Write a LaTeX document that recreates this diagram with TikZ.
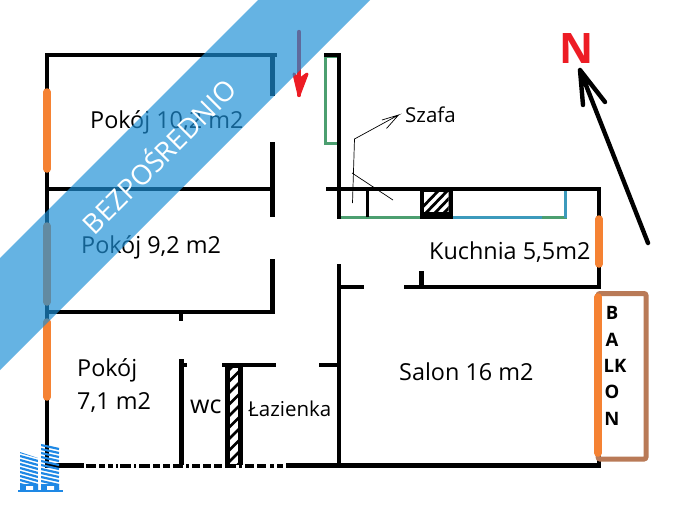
\documentclass[tikz,border=0pt]{standalone}
\usepackage{fontspec}
\setmainfont{Open Sans}
\definecolor{orng}{HTML}{F58233}
\definecolor{grn}{HTML}{4C9F70}
\definecolor{teal2}{HTML}{3C9ABC}
\definecolor{brwn}{HTML}{B97A57}
\definecolor{redd}{HTML}{ED1C24}
\definecolor{bann}{HTML}{1D8FD6}
\definecolor{logob}{HTML}{1E88E5}
\tikzset{
 wall/.style={line width=4.4pt,line cap=butt,black},
 thin wall/.style={line width=3.4pt,black},
 win/.style={line width=7.5pt,line cap=round,orng},
 closet/.style={line width=2.6pt,grn},
 cabinet/.style={line width=2.6pt,teal2},
 note/.style={line width=.7pt,black},
 room/.style={anchor=west,inner sep=0pt,black,font=\fontsize{23.4}{27}\selectfont},
 small room/.style={anchor=west,inner sep=0pt,black,font=\fontsize{20.5}{24}\selectfont},
 balk/.style={anchor=center,inner sep=0pt,black,font=\fontsize{18.5}{21}\selectfont\bfseries},
}
\begin{document}
\begin{tikzpicture}[x=1pt,y=-1pt]
\useasboundingbox (0,0) rectangle (696,509);
\fill[white] (0,0) rectangle (696,509);
% closets
\draw[closet,line join=miter] (339,57) -- (325.5,57) -- (325.5,143.5) -- (338,143.5);
\draw[closet] (341,217.5) -- (421,217.5);
\draw[cabinet] (452,217.5) -- (542,217.5);
\draw[closet] (542,217.5) -- (567,217.5);
\draw[cabinet] (565.5,190) -- (565.5,218);
% outer and room walls
\draw[wall] (47,465.5) -- (47,53) (45,55) -- (277,55);
\draw[wall] (272.5,55) -- (272.5,96);
\draw[wall] (272.5,142) -- (272.5,217);
\draw[wall] (49,189) -- (272.5,189);
\draw[wall] (272.5,259) -- (272.5,314) (272.5,312) -- (47,312);
\draw[wall] (181,312) -- (181,321);
\draw[wall] (324,55) -- (341,55) (339,55) -- (339,219);
\draw[wall] (326,189) -- (601,189) (599,189) -- (599,289);
\draw[thin wall] (367.5,189) -- (367.5,217);
\draw[wall] (339,264) -- (339,467.5);
\draw[wall] (339,287) -- (364,287);
\draw[wall] (404,287) -- (601,287);
\draw[wall] (421.5,271) -- (421.5,287);
\draw[wall] (181.5,359) -- (181.5,465);
\draw[wall] (181.5,365) -- (187,365);
\draw[wall] (222,365) -- (276,365);
\draw[wall] (319,365) -- (339,365);
\draw[wall] (45,465.5) -- (84,465.5);
\draw[wall] (286,465.5) -- (601,465.5);
\draw[wall] (599,455) -- (599,467.5);
% chimney hatch
\fill[black] (420,189) rectangle (453,219);
\begin{scope}
 \clip (424,191.5) rectangle (448.5,212);
 \fill[white] (424,191.5) rectangle (448.5,212);
 \foreach \k in {0,...,4} \draw[line width=2.8pt,black] (414+\k*9,216) -- (441+\k*9,188);
\end{scope}
% shaft hatch
\fill[black] (225,365) rectangle (242.5,465);
\begin{scope}
 \clip (230,368) rectangle (238,464);
 \fill[white] (230,368) rectangle (238,464);
 \foreach \k in {0,...,9} \draw[line width=2.6pt,black] (226,373+\k*11.5) -- (242,357+\k*11.5);
\end{scope}
% clipped line of lettering on the bottom wall
\foreach \a/\b in {86/96,99/105,108/113,116/118,120/131,134/136,139/150,153/160,163/170,173/183,186/189,192/200,203/211,214/222,225/236,239/242,245/254,257/266,270/274,277/283}
 \fill[black] (\a,463.8) rectangle (\b,467.5);
% windows
\draw[win] (47,92) -- (47,169);
\draw[win] (47,226) -- (47,302);
\draw[win] (47,322) -- (47,397);
\draw[win] (599,219) -- (599,264);
% balcony
\draw[brwn,line width=5pt,rounded corners=2pt] (598,293.5) rectangle (646,459);
\draw[win] (598,297) -- (598,453);
% red arrow
\draw[line width=4.4pt,redd,line cap=round,line join=round] (299,32) -- (299,95);
\fill[redd,draw=redd,line width=3pt,line join=round] (294,74) -- (299,95) -- (307,74) -- (299,80) -- cycle;
% black north arrow
\coordinate (ntip) at (580,70);
\coordinate (ntail) at (648,243);
\coordinate (nl) at (583,105);
\coordinate (nr) at (605,102);
\draw[line width=4.4pt,line cap=round,line join=round] (ntail) -- (ntip) (nl) -- (ntip) -- (nr);
\node[inner sep=0pt,text=redd,font=\fontsize{42}{44}\selectfont\bfseries] (north) at (577,49) {N};
% szafa leader
\coordinate (s1) at (352.5,203);
\coordinate (s2) at (354.5,139);
\coordinate (s3) at (398.5,115);
\coordinate (s4) at (352,173);
\coordinate (s5) at (393,200);
\draw[note] (s1) -- (s2) -- (s3) -- (382,120) (s3) -- (386.5,128.5);
\draw[note] (s4) -- (s5);
% labels
\node[small room] (szafa) at (405,114.5) {Szafa};
\node[room] (p10) at (90,122) {Pokój 10,2 m2};
\node[room] (p9) at (81,247) {Pokój 9,2 m2};
\node[room] (kuch) at (429,252.5) {Kuchnia 5,5m2};
\node[room] (sal) at (399,371.5) {Salon 16 m2};
\node[room] (p7a) at (77,370) {Pokój};
\node[room] (p7b) at (77,403) {7,1 m2};
\node[small room,font=\fontsize{25}{28}\selectfont] (wc) at (190,407) {wc};
\node[small room] (laz) at (248,409) {Łazienka};
\node[balk] (bB) at (612,313) {B};
\node[balk] (bA) at (612,340) {A};
\node[balk] (bL) at (615,366) {LK};
\node[balk] (bO) at (612,392) {O};
\node[balk] (bN) at (612,419) {N};
% logo
\begin{scope}
 \clip (20,452) -- (38,458) -- (38,490) -- (20,490) -- cycle;
 \foreach \k in {0,...,9} \draw[logob,line width=2.2pt] (20,452+\k*4) -- (38,457+\k*4);
\end{scope}
\begin{scope}
 \clip (41,444) -- (59,447) -- (59,490) -- (41,490) -- cycle;
 \foreach \k in {0,...,11} \draw[logob,line width=2.2pt] (41,445+\k*4) -- (59,449+\k*4);
\end{scope}
\fill[logob] (20,484) rectangle (38,490) (41,484) rectangle (59,490);
\fill[white] (26,486) rectangle (33,490) (47,486) rectangle (54,490);
\draw[logob,line width=1.4pt] (18,491) -- (63,491);
% banner
\fill[bann,opacity=.68] (0,258) -- (258,0) -- (370,0) -- (0,370) -- cycle;
\node[rotate=45,inner sep=0pt,white,font=\fontsize{27.5}{30}\selectfont] (ban) at (158,155) {BEZPOŚREDNIO};
\end{tikzpicture}
\end{document}
